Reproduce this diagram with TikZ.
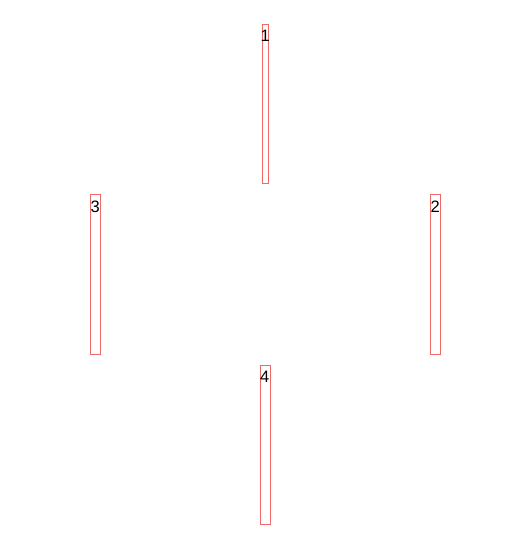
\documentclass[tikz,border=0pt]{standalone}
\usepackage{fontspec}
\setmainfont{Liberation Sans}
\definecolor{barred}{RGB}{240,105,105}
\begin{document}
\begin{tikzpicture}[x=1pt,y=-1pt,
  bar/.style={draw=barred,line width=1pt,inner sep=0pt,minimum height=159pt},
  lbl/.style={anchor=base west,inner sep=0pt,font=\fontsize{16.5}{19}\selectfont}]
\useasboundingbox (0,0) rectangle (520,545);
\node[bar,minimum width=6.8pt,anchor=north west] (r1) at (261.5,24.5) {};
\node[bar,minimum width=10.8pt,anchor=north west] (r3) at (89.5,194.5) {};
\node[bar,minimum width=10.8pt,anchor=north west] (r2) at (429.5,194.5) {};
\node[bar,minimum width=10.8pt,anchor=north west] (r4) at (259.5,364.5) {};
\node[lbl] (t1) at ([shift={(-1pt,-17.5pt)}]r1.north west) {1};
\node[lbl] (t3) at ([shift={(0.8pt,-17.5pt)}]r3.north west) {3};
\node[lbl] (t2) at ([shift={(0.8pt,-17.5pt)}]r2.north west) {2};
\node[lbl] (t4) at ([shift={(0.5pt,-17.5pt)}]r4.north west) {4};
\end{tikzpicture}
\end{document}
